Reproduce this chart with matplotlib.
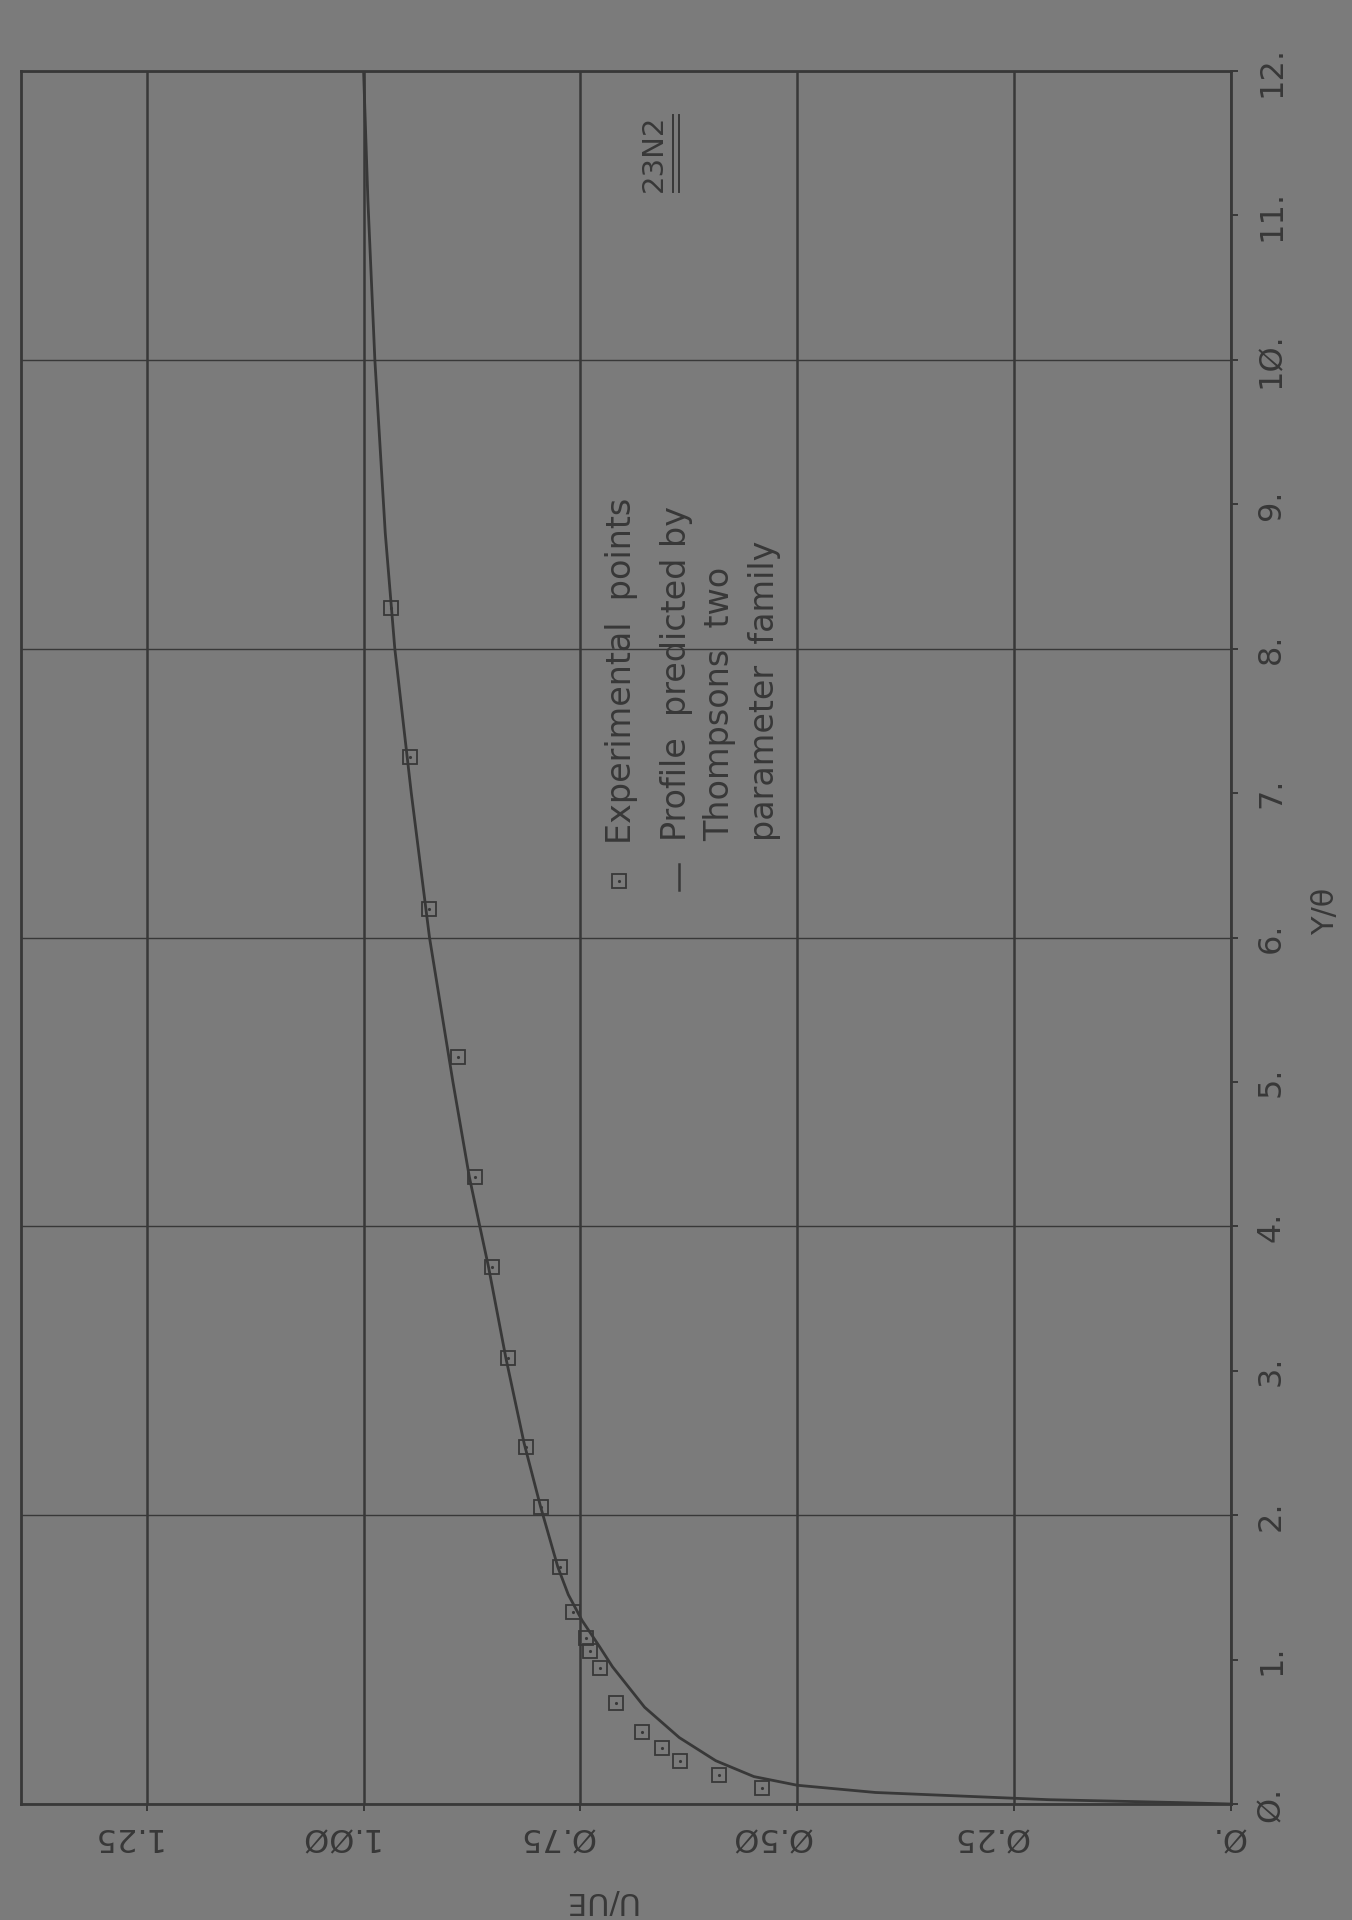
"""
Velocity profile U/UE against Y/theta for run 23N2, drawn sideways
"""
import matplotlib
matplotlib.use("Agg")
import matplotlib.pyplot as plt
from matplotlib.lines import Line2D
from matplotlib.transforms import ScaledTranslation, IdentityTransform

PAPER = "#7b7b7b"
INK = "#383838"
PLOTTER_FONT = ["Liberation Sans Narrow", "DejaVu Sans"]

# experimental points
exp_y = [0.11, 0.20, 0.30, 0.39, 0.50, 0.70, 0.94, 1.06, 1.15, 1.33,
         1.64, 2.06, 2.47, 3.09, 3.72, 4.34, 5.17, 6.20, 7.25, 8.28]
exp_u = [0.541, 0.590, 0.635, 0.656, 0.679, 0.709, 0.727, 0.739, 0.744, 0.758,
         0.774, 0.795, 0.813, 0.834, 0.852, 0.872, 0.891, 0.925, 0.947, 0.968]

# profile from Thompson's two parameter family
fit_y = [0.00, 0.01, 0.03, 0.05, 0.08, 0.13, 0.19, 0.30, 0.46, 0.67,
         0.95, 1.09, 1.27, 1.45, 1.64, 2.06, 2.50, 3.09, 3.72, 4.00,
         4.34, 5.00, 6.00, 7.00, 8.00, 8.80, 10.00, 11.10, 12.00]
fit_u = [0.000, 0.060, 0.210, 0.290, 0.410, 0.500, 0.550, 0.594, 0.636, 0.676,
         0.713, 0.728, 0.748, 0.764, 0.776, 0.796, 0.815, 0.836, 0.856, 0.866,
         0.878, 0.897, 0.924, 0.945, 0.964, 0.975, 0.987, 0.995, 1.000]

u_ticks = [0.0, 0.25, 0.50, 0.75, 1.00, 1.25]
u_labels = ["Ø.", "Ø.25", "Ø.5Ø", "Ø.75", "1.ØØ", "1.25"]
y_major = [0, 2, 4, 6, 8, 10, 12]
y_major_labels = ["Ø.", "2.", "4.", "6.", "8.", "1Ø.", "12."]
y_minor = [1, 3, 5, 7, 9, 11]
y_minor_labels = ["1.", "3.", "5.", "7.", "9.", "11."]

fig = plt.figure(figsize=(13.52, 19.2), dpi=100, facecolor=PAPER)
ax = fig.add_axes([0.0155, 0.0604, 0.8950, 0.9026], facecolor=PAPER)

ax.plot(fit_u, fit_y, color=INK, lw=2.0, zorder=3)
ax.plot(exp_u, exp_y, ls="none", marker="s", ms=10.5, mfc="none",
        mec=INK, mew=1.3, zorder=4)
ax.plot(exp_u, exp_y, ls="none", marker=".", ms=2.5, color=INK, zorder=4)

ax.set_xlim(1.395, 0.0)
ax.set_ylim(0, 12)

ax.set_xticks(u_ticks, u_labels)
ax.set_yticks(y_major, y_major_labels)
ax.set_yticks(y_minor, y_minor_labels, minor=True)
ax.yaxis.tick_right()

ax.grid(axis="x", which="major", color=INK, lw=1.8)
ax.grid(axis="y", which="major", color=INK, lw=1.0)
ax.set_axisbelow(True)

for s in ax.spines.values():
    s.set_color(INK)
    s.set_linewidth(2.0)

ax.tick_params(axis="both", which="both", direction="out", length=5,
               width=1.4, color=INK, labelcolor=INK, labelsize=23,
               labelfontfamily=PLOTTER_FONT)
ax.tick_params(axis="x", pad=7, labelrotation=180)
ax.tick_params(axis="y", which="both", pad=13, labelrotation=90)

shift = ScaledTranslation(0.14, 0, fig.dpi_scale_trans)
for lab in ax.get_xticklabels():
    lab.set_ha("right")
    lab.set_transform(lab.get_transform() + shift)
for lab in ax.get_yticklabels(which="both"):
    lab.set_va("center")

ax.set_xlabel("U/UE", rotation=180, fontsize=22, family=PLOTTER_FONT, color=INK)
ax.xaxis.set_label_coords(0.478, -0.0554)
ax.xaxis.label.set_va("center")
ax.yaxis.set_label_position("right")
ax.set_ylabel("Y/θ", rotation=90, fontsize=22, family=PLOTTER_FONT, color=INK)
ax.yaxis.set_label_coords(1.0785, 0.515)
ax.yaxis.label.set_va("center")
ax.yaxis.label.set_ha("center")

# legend, written along the Y/theta direction
leg_kw = dict(rotation=90, ha="center", va="bottom", fontsize=24,
              color=INK, family="DejaVu Sans")
ax.plot([0.705], [6.39], ls="none", marker="s", ms=10.5, mfc="none",
        mec=INK, mew=1.3)
ax.plot([0.705], [6.39], ls="none", marker=".", ms=2.5, color=INK)
ax.text(0.703, 6.65, "Experimental  points", **leg_kw)
ax.plot([0.636, 0.636], [6.33, 6.51], color=INK, lw=1.8)
ax.text(0.639, 6.67, "Profile  predicted by", **leg_kw)
ax.text(0.590, 6.67, "Thompsons  two", **leg_kw)
ax.text(0.538, 6.67, "parameter  family", **leg_kw)

run_label = ax.text(0.665, 11.16, "23N2", rotation=90, ha="center", va="bottom",
                    fontsize=21, color=INK, family="DejaVu Sans")

# double underline beside the run label
fig.canvas.draw()
bb = run_label.get_window_extent()
for off in (5, 11):
    fig.add_artist(Line2D([bb.x1 + off, bb.x1 + off], [bb.y0, bb.y1],
                          transform=IdentityTransform(), color=INK, lw=1.4))

fig.savefig("out.png", dpi=100, facecolor=PAPER)
